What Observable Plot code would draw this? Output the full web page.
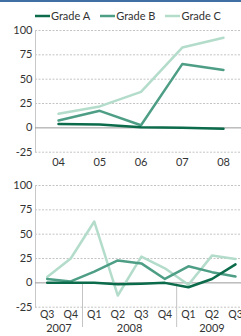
<!DOCTYPE html>
<html>
<head>
<meta charset="utf-8">
<script src="https://cdn.jsdelivr.net/npm/d3@7"></script>
<script src="https://cdn.jsdelivr.net/npm/@observablehq/plot@0.6"></script>
<style>
  html, body { margin: 0; padding: 0; background: #fff; }
  #wrap { position: relative; width: 241px; height: 336px; overflow: hidden; font-family: Lato, "DejaVu Sans", sans-serif; color: #333; }
  #bar { position: absolute; left: 0; top: 0; width: 241px; height: 2px; background: #3f6fa3; }
  #legend { position: absolute; left: 35px; top: 9px; height: 14px; display: flex; align-items: center; font-size: 11px; line-height: 14px; }
  .item { display: flex; align-items: center; margin-right: 10px; }
  .item svg { margin-right: 1px; }
  .chart { position: absolute; left: 0; }
  #top { top: 22px; }
  #bottom { top: 170px; }
</style>
</head>
<body>
<div id="wrap">
  <div id="bar"></div>
  <div id="legend"></div>
  <div id="top" class="chart"></div>
  <div id="bottom" class="chart"></div>
</div>
<script>
// ---- data ----
const seriesNames = ["Grade A", "Grade B", "Grade C"];
const seriesColors = ["#0b6b4b", "#4e9e86", "#b3dccb"];

const yearLabels = ["04", "05", "06", "07", "08"];
const gradeAYear = [4, 3.5, 0.7, 0, -1];
const gradeBYear = [7.5, 17.5, 2.7, 65.5, 59.5];
const gradeCYear = [14.5, 22, 37, 82.5, 92.5];

const quarterLabels = ["Q3", "Q4", "Q1", "Q2", "Q3", "Q4", "Q1", "Q2", "Q3"];
const quarterYears = ["2007", "2007", "2008", "2008", "2008", "2008", "2009", "2009", "2009"];
const gradeAQuarter = [0, 0, 0, -1.5, -1, 0, -4.5, 4, 19];
const gradeBQuarter = [4, 1.5, 11.5, 23, 20, 4, 17, 11, 6.5];
const gradeCQuarter = [6, 25, 63, -13, 27, 15, -2, 28, 24.5];

const yTicks = [100, 75, 50, 25, 0, -25];
const yTickLabels = ["100", "75", "50", "25", "0", "-25"];

// ---- legend ----
const legend = document.getElementById("legend");
seriesNames.forEach((name, i) => {
  const item = document.createElement("div");
  item.className = "item";
  item.innerHTML = `<svg width="15" height="6"><line x1="0" x2="15" y1="3" y2="3" stroke="${seriesColors[i]}" stroke-width="2.5"/></svg><span>${name}</span>`;
  legend.appendChild(item);
});

function toRows(labels, arrays) {
  const rows = [];
  arrays.forEach((arr, s) => arr.forEach((v, i) => rows.push({i, label: labels[i], value: v, series: seriesNames[s]})));
  return rows;
}

const topRows = toRows(yearLabels, [gradeAYear, gradeBYear, gradeCYear]);
const bottomRows = toRows(quarterLabels, [gradeAQuarter, gradeBQuarter, gradeCQuarter]);

const common = {
  width: 241,
  marginLeft: 35,
  marginRight: 0,
  style: {fontFamily: 'Lato, "DejaVu Sans", sans-serif', fontSize: "11px", color: "#333", background: "transparent", overflow: "visible"},
  color: {domain: seriesNames, range: seriesColors}
};

function linesFor(rows) {
  return [...seriesNames].reverse().map(s =>
    Plot.line(rows.filter(d => d.series === s), {x: "i", y: "value", stroke: seriesColors[seriesNames.indexOf(s)], strokeWidth: 2.5, curve: "linear"})
  );
}

function baseMarks() {
  return [
    Plot.ruleY(yTicks.filter(d => d !== 0), {stroke: "#c4c4c4", strokeDasharray: "2,1.5", strokeWidth: 1}),
    Plot.frame({anchor: "left", stroke: "#c8c8c8"}),
    Plot.ruleY([0], {stroke: "#9a9a9a", strokeWidth: 1}),
    Plot.axisY(yTicks, {tickSize: 0, tickPadding: 3, fontSize: 11, label: null, tickFormat: d => yTickLabels[yTicks.indexOf(d)]})
  ];
}

const topChart = Plot.plot({
  ...common,
  height: 148,
  marginTop: 8,
  marginBottom: 18.3,
  x: {domain: [0, yearLabels.length - 1], range: [58, 223], label: null},
  y: {domain: [-25, 100], label: null},
  marks: [
    ...baseMarks(),
    Plot.axisX(d3.range(yearLabels.length), {tickSize: 0, tickPadding: 6, tickFormat: i => yearLabels[i], fontSize: 11, label: null}),
    ...linesFor(topRows)
  ]
});
document.getElementById("top").appendChild(topChart);

// year groups
const yearGroups = d3.groups(quarterLabels.map((q, i) => ({i, year: quarterYears[i]})), d => d.year)
  .map(([year, arr]) => ({year, mid: d3.mean(arr, d => d.i), start: d3.min(arr, d => d.i)}));
const separators = yearGroups.slice(1).map(g => ({x: g.start - 0.5}));

const bottomChart = Plot.plot({
  ...common,
  height: 166,
  marginTop: 15,
  marginBottom: 29.3,
  x: {domain: [0, quarterLabels.length - 1], range: [46.7, 235], label: null},
  y: {domain: [-25, 100], label: null},
  marks: [
    ...baseMarks(),
    Plot.ruleX(separators, {x: "x", stroke: "#c4c4c4", strokeWidth: 1, insetTop: 97.3, insetBottom: -20.3}),
    Plot.axisX(d3.range(quarterLabels.length), {tickSize: 0, tickPadding: 3.5, tickFormat: i => quarterLabels[i], fontSize: 10.5, label: null}),
    Plot.text(yearGroups, {x: "mid", text: "year", frameAnchor: "bottom", dy: 25, fontSize: 11, fill: "#333"}),
    ...linesFor(bottomRows)
  ]
});
document.getElementById("bottom").appendChild(bottomChart);
</script>
</body>
</html>
